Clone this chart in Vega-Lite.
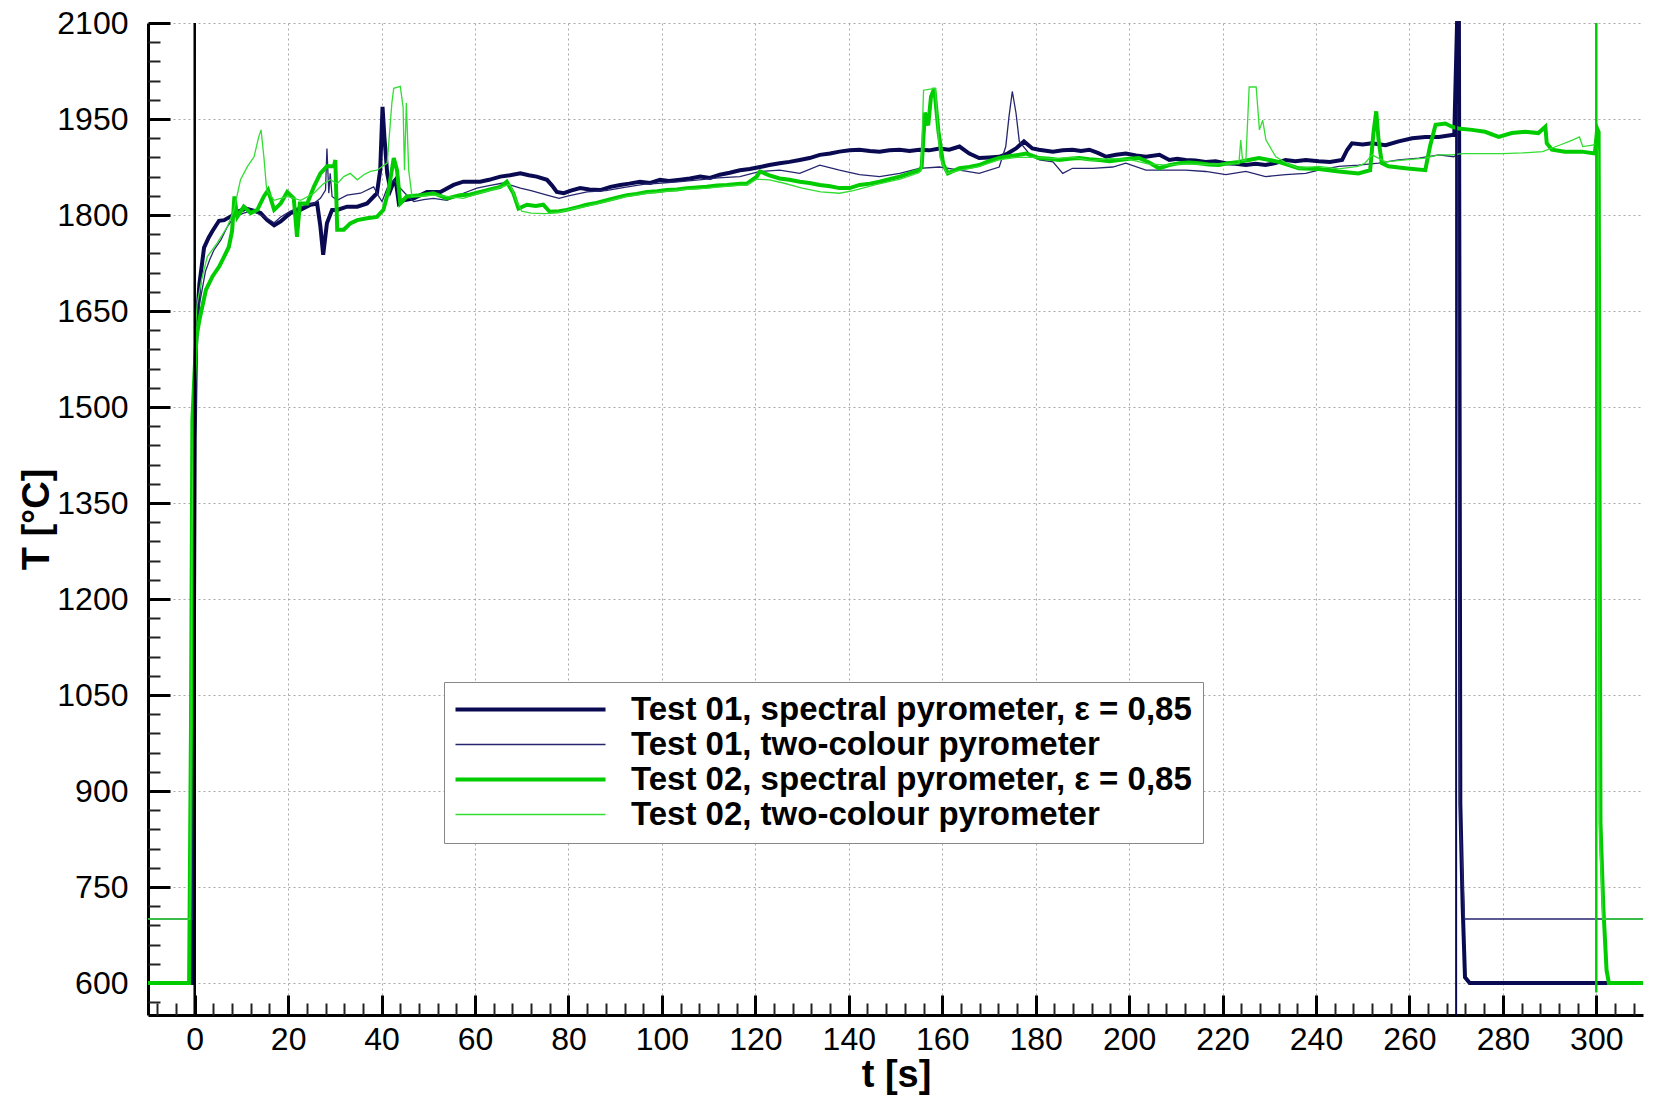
{
"$schema": "https://vega.github.io/schema/vega-lite/v6.json",
"width": 1495, "height": 992,
"autosize": {"type": "none"},
"padding": {"left": 148, "top": 23, "right": 11, "bottom": 82},
"background": "white",
"config": {"view": {"stroke": null}, "font": "Liberation Sans"},
"resolve": {"axis": {"x": "independent", "y": "independent"}},
"datasets": {
"t01s": [{"t":-10,"T":600},{"t":-0.4,"T":600},{"t":-0.2,"T":1100},{"t":0,"T":1450},{"t":0.3,"T":1615},{"t":1,"T":1692},{"t":2,"T":1749},{"t":3,"T":1765},{"t":3.8,"T":1775},{"t":5.2,"T":1791},{"t":6.3,"T":1792},{"t":8,"T":1799},{"t":9.1,"T":1805},{"t":11,"T":1810},{"t":12,"T":1808},{"t":13,"T":1806},{"t":14.1,"T":1803},{"t":15.5,"T":1792},{"t":17,"T":1784},{"t":18.4,"T":1790},{"t":19.5,"T":1797},{"t":20.5,"T":1803},{"t":22.6,"T":1808},{"t":24.8,"T":1816},{"t":26.2,"T":1818},{"t":26.9,"T":1782},{"t":27.5,"T":1738},{"t":28.3,"T":1787},{"t":29.4,"T":1808},{"t":30.5,"T":1808},{"t":32.6,"T":1813},{"t":34.8,"T":1813},{"t":36.9,"T":1818},{"t":39,"T":1834},{"t":39.7,"T":1870},{"t":40.2,"T":1969},{"t":40.6,"T":1922},{"t":41.2,"T":1865},{"t":41.9,"T":1839},{"t":42.5,"T":1850},{"t":43,"T":1855},{"t":43.7,"T":1818},{"t":44.7,"T":1823},{"t":46.9,"T":1826},{"t":49.7,"T":1836},{"t":52.6,"T":1836},{"t":55.4,"T":1847},{"t":57.5,"T":1852},{"t":61.1,"T":1852},{"t":63,"T":1855},{"t":65.4,"T":1860},{"t":67.5,"T":1862},{"t":69.7,"T":1865},{"t":71.5,"T":1862},{"t":73.2,"T":1860},{"t":75.4,"T":1855},{"t":76.5,"T":1846},{"t":77.5,"T":1836},{"t":79,"T":1834},{"t":80.5,"T":1838},{"t":82.5,"T":1842},{"t":84.5,"T":1840},{"t":86.8,"T":1839},{"t":89,"T":1844},{"t":91.1,"T":1847},{"t":93,"T":1849},{"t":95.3,"T":1852},{"t":97.5,"T":1850},{"t":99.6,"T":1855},{"t":101.5,"T":1853},{"t":103.9,"T":1855},{"t":106,"T":1857},{"t":108.2,"T":1860},{"t":110.3,"T":1858},{"t":112.4,"T":1863},{"t":114.5,"T":1866},{"t":116.7,"T":1870},{"t":118.8,"T":1872},{"t":121,"T":1875},{"t":123,"T":1878},{"t":125.2,"T":1881},{"t":127.3,"T":1883},{"t":129.5,"T":1886},{"t":131.6,"T":1889},{"t":133.8,"T":1894},{"t":136,"T":1896},{"t":138,"T":1899},{"t":140.2,"T":1901},{"t":142.3,"T":1902},{"t":144.5,"T":1900},{"t":146.6,"T":1899},{"t":148.7,"T":1901},{"t":150.9,"T":1902},{"t":153,"T":1900},{"t":155.1,"T":1902},{"t":157.2,"T":1901},{"t":159.4,"T":1904},{"t":161.5,"T":1902},{"t":163.7,"T":1907},{"t":165.8,"T":1896},{"t":167.9,"T":1889},{"t":170,"T":1890},{"t":172.2,"T":1891},{"t":174,"T":1896},{"t":175.8,"T":1904},{"t":177.5,"T":1915},{"t":179.3,"T":1904},{"t":180.7,"T":1902},{"t":183.7,"T":1899},{"t":185.8,"T":1901},{"t":187.9,"T":1902},{"t":189.7,"T":1900},{"t":191.5,"T":1902},{"t":193.3,"T":1897},{"t":195.1,"T":1891},{"t":197.2,"T":1894},{"t":199.3,"T":1896},{"t":201.5,"T":1893},{"t":203.6,"T":1891},{"t":206.5,"T":1894},{"t":208.6,"T":1886},{"t":210.3,"T":1888},{"t":212.1,"T":1886},{"t":214.2,"T":1885},{"t":216.4,"T":1883},{"t":218.5,"T":1884},{"t":220.7,"T":1881},{"t":222.8,"T":1880},{"t":225,"T":1878},{"t":227.1,"T":1880},{"t":229.2,"T":1878},{"t":231.3,"T":1881},{"t":233.5,"T":1886},{"t":235.6,"T":1884},{"t":237.8,"T":1886},{"t":240.6,"T":1884},{"t":243,"T":1883},{"t":245.6,"T":1886},{"t":246.7,"T":1902},{"t":247.7,"T":1912},{"t":250,"T":1910},{"t":252,"T":1912},{"t":254.9,"T":1909},{"t":257.7,"T":1915},{"t":260.6,"T":1920},{"t":263.4,"T":1922},{"t":266.3,"T":1922},{"t":269.1,"T":1925},{"t":269.6,"T":1925},{"t":270.2,"T":2100},{"t":270.6,"T":2100},{"t":270.9,"T":880},{"t":271.4,"T":720},{"t":271.9,"T":609},{"t":272.9,"T":600},{"t":310,"T":600}],
"t01t": [{"t":-10,"T":700},{"t":-0.4,"T":700},{"t":-0.1,"T":1300},{"t":0.3,"T":1560},{"t":1,"T":1660},{"t":2.3,"T":1712},{"t":3.2,"T":1730},{"t":4.1,"T":1745},{"t":5.6,"T":1761},{"t":7,"T":1782},{"t":8.4,"T":1797},{"t":9.5,"T":1800},{"t":10.5,"T":1803},{"t":12,"T":1806},{"t":13,"T":1804},{"t":14.2,"T":1800},{"t":15.5,"T":1795},{"t":17,"T":1788},{"t":18.4,"T":1797},{"t":20.5,"T":1806},{"t":22.7,"T":1813},{"t":24,"T":1815},{"t":25.5,"T":1818},{"t":26.9,"T":1826},{"t":28,"T":1839},{"t":28.3,"T":1904},{"t":28.7,"T":1834},{"t":29,"T":1865},{"t":29.4,"T":1829},{"t":30.5,"T":1823},{"t":32.6,"T":1831},{"t":35.5,"T":1834},{"t":38.3,"T":1844},{"t":39.4,"T":1829},{"t":40.1,"T":1821},{"t":41.2,"T":1842},{"t":42.6,"T":1855},{"t":44,"T":1842},{"t":45.5,"T":1830},{"t":46.9,"T":1821},{"t":49,"T":1824},{"t":51.1,"T":1826},{"t":54,"T":1823},{"t":57.5,"T":1834},{"t":60.4,"T":1842},{"t":63,"T":1846},{"t":66,"T":1850},{"t":68,"T":1846},{"t":69.7,"T":1842},{"t":72,"T":1838},{"t":75.4,"T":1831},{"t":78,"T":1826},{"t":80,"T":1830},{"t":84,"T":1836},{"t":88,"T":1838},{"t":92,"T":1843},{"t":96,"T":1848},{"t":100,"T":1850},{"t":104,"T":1852},{"t":108,"T":1855},{"t":112,"T":1858},{"t":116.7,"T":1860},{"t":121,"T":1868},{"t":125.2,"T":1870},{"t":129.5,"T":1865},{"t":133.8,"T":1878},{"t":138,"T":1870},{"t":142.3,"T":1863},{"t":146.6,"T":1860},{"t":150.9,"T":1865},{"t":155.1,"T":1873},{"t":159.4,"T":1875},{"t":163.7,"T":1870},{"t":167.9,"T":1865},{"t":172.2,"T":1875},{"t":173.6,"T":1907},{"t":174.3,"T":1954},{"t":175,"T":1993},{"t":175.8,"T":1959},{"t":176.5,"T":1915},{"t":178.6,"T":1896},{"t":180.8,"T":1886},{"t":183.7,"T":1883},{"t":185.8,"T":1865},{"t":187.9,"T":1873},{"t":192.2,"T":1873},{"t":196.5,"T":1875},{"t":199.3,"T":1881},{"t":203.6,"T":1870},{"t":207.9,"T":1870},{"t":212.1,"T":1870},{"t":216.4,"T":1868},{"t":220.7,"T":1863},{"t":225,"T":1868},{"t":229.2,"T":1860},{"t":233.5,"T":1863},{"t":237.8,"T":1865},{"t":240.6,"T":1870},{"t":244.9,"T":1876},{"t":249.1,"T":1878},{"t":253.4,"T":1881},{"t":257.7,"T":1886},{"t":262,"T":1889},{"t":266.3,"T":1894},{"t":269.5,"T":1891},{"t":270.3,"T":1895},{"t":270.8,"T":850},{"t":271.3,"T":790},{"t":271.8,"T":700},{"t":310,"T":700}],
"t02s": [{"t":-10,"T":600},{"t":-1.2,"T":600},{"t":-0.8,"T":1000},{"t":-0.5,"T":1480},{"t":0,"T":1560},{"t":0.4,"T":1610},{"t":1,"T":1636},{"t":2.4,"T":1683},{"t":3.8,"T":1704},{"t":5.2,"T":1719},{"t":6.3,"T":1735},{"t":7.3,"T":1750},{"t":8,"T":1775},{"t":8.5,"T":1829},{"t":9.1,"T":1797},{"t":10.5,"T":1813},{"t":12,"T":1803},{"t":13.4,"T":1808},{"t":14.8,"T":1829},{"t":15.7,"T":1839},{"t":17,"T":1808},{"t":18.4,"T":1818},{"t":19.8,"T":1836},{"t":21.2,"T":1826},{"t":21.9,"T":1766},{"t":22.5,"T":1818},{"t":24.1,"T":1818},{"t":25.5,"T":1844},{"t":26.9,"T":1865},{"t":28.3,"T":1876},{"t":29.8,"T":1876},{"t":30.1,"T":1886},{"t":30.5,"T":1777},{"t":31.9,"T":1777},{"t":33.3,"T":1787},{"t":34.8,"T":1792},{"t":36.9,"T":1795},{"t":39,"T":1797},{"t":40.4,"T":1808},{"t":41.5,"T":1839},{"t":42.6,"T":1889},{"t":43.3,"T":1870},{"t":44,"T":1818},{"t":45.4,"T":1829},{"t":48.3,"T":1831},{"t":51.1,"T":1834},{"t":54,"T":1826},{"t":56.8,"T":1831},{"t":59,"T":1832},{"t":61.1,"T":1836},{"t":63.2,"T":1840},{"t":65.4,"T":1844},{"t":66.8,"T":1852},{"t":68.2,"T":1834},{"t":69.3,"T":1810},{"t":71.1,"T":1816},{"t":73,"T":1814},{"t":74.6,"T":1816},{"t":76,"T":1805},{"t":78,"T":1806},{"t":79.6,"T":1808},{"t":81.8,"T":1812},{"t":83.9,"T":1816},{"t":86,"T":1819},{"t":88.2,"T":1823},{"t":90.3,"T":1827},{"t":92.5,"T":1831},{"t":94.6,"T":1833},{"t":96.8,"T":1836},{"t":99,"T":1837},{"t":101,"T":1839},{"t":103.2,"T":1840},{"t":105.3,"T":1842},{"t":107.5,"T":1843},{"t":109.6,"T":1844},{"t":111.8,"T":1846},{"t":113.9,"T":1847},{"t":116.7,"T":1849},{"t":118.2,"T":1849},{"t":120.3,"T":1860},{"t":121,"T":1868},{"t":123,"T":1862},{"t":125.2,"T":1857},{"t":127.3,"T":1855},{"t":129.5,"T":1852},{"t":131.6,"T":1850},{"t":133.8,"T":1847},{"t":136,"T":1845},{"t":138,"T":1842},{"t":140.2,"T":1842},{"t":142.3,"T":1847},{"t":144.5,"T":1849},{"t":146.6,"T":1852},{"t":148.7,"T":1856},{"t":150.9,"T":1860},{"t":153,"T":1865},{"t":155.1,"T":1870},{"t":155.6,"T":1875},{"t":156.3,"T":1960},{"t":157,"T":1940},{"t":157.6,"T":1985},{"t":158.3,"T":1998},{"t":159.2,"T":1930},{"t":160.2,"T":1880},{"t":161.2,"T":1865},{"t":163.7,"T":1873},{"t":165.8,"T":1875},{"t":167.9,"T":1878},{"t":170,"T":1884},{"t":172.2,"T":1889},{"t":174.3,"T":1892},{"t":176.5,"T":1894},{"t":178,"T":1896},{"t":180.7,"T":1889},{"t":183,"T":1888},{"t":185,"T":1886},{"t":187.2,"T":1888},{"t":189.3,"T":1889},{"t":191.5,"T":1887},{"t":193.6,"T":1886},{"t":195.8,"T":1884},{"t":197.9,"T":1886},{"t":200,"T":1888},{"t":202.1,"T":1889},{"t":204.3,"T":1882},{"t":206.4,"T":1873},{"t":208.6,"T":1878},{"t":210.7,"T":1881},{"t":212.8,"T":1882},{"t":214.9,"T":1881},{"t":217,"T":1879},{"t":219.2,"T":1878},{"t":221.3,"T":1881},{"t":223.5,"T":1883},{"t":225.6,"T":1886},{"t":227.8,"T":1889},{"t":230,"T":1886},{"t":232,"T":1883},{"t":234.2,"T":1878},{"t":236.3,"T":1873},{"t":240.6,"T":1872},{"t":244.9,"T":1868},{"t":249.1,"T":1865},{"t":251.6,"T":1870},{"t":252.3,"T":1928},{"t":252.9,"T":1962},{"t":253.4,"T":1917},{"t":254.1,"T":1881},{"t":255.5,"T":1876},{"t":259.1,"T":1873},{"t":263.4,"T":1870},{"t":264.4,"T":1907},{"t":265.6,"T":1941},{"t":267.7,"T":1943},{"t":269.1,"T":1938},{"t":270.5,"T":1935},{"t":273.4,"T":1933},{"t":276.2,"T":1930},{"t":279.1,"T":1922},{"t":281.9,"T":1928},{"t":284.8,"T":1930},{"t":287.6,"T":1928},{"t":289.1,"T":1938},{"t":289.4,"T":1912},{"t":290.5,"T":1902},{"t":293.3,"T":1899},{"t":296.9,"T":1899},{"t":299.7,"T":1896},{"t":300.2,"T":1935},{"t":300.5,"T":1930},{"t":300.9,"T":850},{"t":301.5,"T":720},{"t":302.2,"T":620},{"t":302.7,"T":600},{"t":310,"T":600}],
"t02t": [{"t":-10,"T":700},{"t":-1,"T":700},{"t":-0.6,"T":1300},{"t":0,"T":1600},{"t":0.5,"T":1660},{"t":1.5,"T":1700},{"t":2.7,"T":1735},{"t":4.8,"T":1756},{"t":7,"T":1782},{"t":8.4,"T":1808},{"t":9.8,"T":1855},{"t":11.3,"T":1876},{"t":12.7,"T":1891},{"t":13.7,"T":1922},{"t":14.2,"T":1933},{"t":14.8,"T":1891},{"t":15.4,"T":1839},{"t":17,"T":1823},{"t":19.8,"T":1829},{"t":22.7,"T":1823},{"t":25.5,"T":1834},{"t":27.6,"T":1849},{"t":29,"T":1855},{"t":30.5,"T":1849},{"t":31.9,"T":1860},{"t":33.3,"T":1865},{"t":34.8,"T":1855},{"t":36.2,"T":1863},{"t":37.6,"T":1868},{"t":39,"T":1870},{"t":41.2,"T":1881},{"t":42.2,"T":1975},{"t":42.6,"T":1998},{"t":44,"T":2001},{"t":44.6,"T":1969},{"t":44.9,"T":1870},{"t":45.3,"T":1975},{"t":45.8,"T":1870},{"t":46.5,"T":1829},{"t":48.3,"T":1829},{"t":51.1,"T":1831},{"t":54,"T":1829},{"t":57.5,"T":1826},{"t":61,"T":1834},{"t":65,"T":1842},{"t":67.5,"T":1848},{"t":69,"T":1820},{"t":70,"T":1806},{"t":72,"T":1803},{"t":75,"T":1802},{"t":78,"T":1804},{"t":80,"T":1808},{"t":84,"T":1814},{"t":88,"T":1821},{"t":92.5,"T":1829},{"t":96.8,"T":1834},{"t":101,"T":1837},{"t":105.3,"T":1840},{"t":109.6,"T":1842},{"t":113.9,"T":1845},{"t":118.2,"T":1847},{"t":120.3,"T":1856},{"t":123,"T":1855},{"t":126,"T":1850},{"t":130,"T":1842},{"t":134,"T":1836},{"t":138,"T":1834},{"t":141,"T":1838},{"t":146,"T":1848},{"t":151,"T":1856},{"t":155,"T":1866},{"t":155.5,"T":1870},{"t":156,"T":1995},{"t":158.5,"T":1998},{"t":159.5,"T":1890},{"t":161,"T":1865},{"t":164,"T":1870},{"t":168,"T":1876},{"t":172,"T":1886},{"t":176,"T":1890},{"t":180,"T":1890},{"t":184,"T":1888},{"t":188,"T":1890},{"t":192,"T":1885},{"t":196,"T":1888},{"t":200,"T":1887},{"t":204,"T":1880},{"t":208,"T":1878},{"t":212,"T":1880},{"t":216,"T":1879},{"t":220,"T":1880},{"t":223.5,"T":1880},{"t":223.9,"T":1917},{"t":224.3,"T":1885},{"t":225,"T":1886},{"t":225.7,"T":2000},{"t":227.2,"T":2000},{"t":227.9,"T":1933},{"t":228.6,"T":1948},{"t":229.3,"T":1917},{"t":231.4,"T":1891},{"t":234,"T":1880},{"t":236.3,"T":1873},{"t":240.6,"T":1876},{"t":244.9,"T":1872},{"t":249,"T":1876},{"t":250.5,"T":1881},{"t":252,"T":1894},{"t":254.9,"T":1883},{"t":259.1,"T":1886},{"t":263.4,"T":1889},{"t":266.3,"T":1894},{"t":269.1,"T":1894},{"t":271.3,"T":1896},{"t":275.6,"T":1896},{"t":279.9,"T":1896},{"t":284.2,"T":1897},{"t":288.5,"T":1899},{"t":292.1,"T":1909},{"t":294.9,"T":1917},{"t":296.4,"T":1922},{"t":297.1,"T":1907},{"t":299.2,"T":1909},{"t":299.9,"T":1912},{"t":300.4,"T":1900},{"t":300.7,"T":820},{"t":301,"T":780},{"t":301.4,"T":700},{"t":310,"T":700}]
},
"layer": [
{"data": {"name": "t01s"}, "mark": {"type": "line", "strokeWidth": 4},
 "encoding": {
  "x": {"field": "t", "type": "quantitative", "scale": {"domain": [-10, 310], "nice": false, "zero": false},
   "axis": {"orient": "bottom", "values": [0,20,40,60,80,100,120,140,160,180,200,220,240,260,280,300], "format": "d", "grid": true, "gridColor": "#a8a8a8", "gridDash": [2,3], "gridWidth": 1, "domainColor": "black", "domainWidth": 3, "tickColor": "black", "tickSize": -20, "tickWidth": 3, "labelFont": "Liberation Sans", "labelFontSize": 32, "labelColor": "black", "labelPadding": 29, "labelFlush": false, "labelOverlap": false, "title": "t [s]", "titleFont": "Liberation Sans", "titleFontSize": 38, "titleFontWeight": "bold", "titleColor": "black", "titleX": 748, "titleY": 60, "titleAlign": "center", "titleBaseline": "middle"}},
  "y": {"field": "T", "type": "quantitative", "scale": {"domain": [550, 2100], "nice": false, "zero": false},
   "axis": {"orient": "left", "values": [600,750,900,1050,1200,1350,1500,1650,1800,1950,2100], "format": "d", "grid": true, "gridColor": "#a8a8a8", "gridDash": [2,3], "gridWidth": 1, "domainColor": "black", "domainWidth": 3, "tickColor": "black", "tickSize": -22, "tickWidth": 3, "labelFont": "Liberation Sans", "labelFontSize": 32, "labelColor": "black", "labelPadding": 42, "labelFlush": false, "labelOverlap": false, "title": "T [°C]", "titleFont": "Liberation Sans", "titleFontSize": 38, "titleFontWeight": "bold", "titleColor": "black", "titleX": -111, "titleY": 496, "titleAngle": -90, "titleAlign": "center", "titleBaseline": "middle"}},
  "color": {"datum": "Test 01, spectral pyrometer, ε = 0,85", "type": "nominal",
   "scale": {"domain": ["Test 01, spectral pyrometer, ε = 0,85", "Test 01, two-colour pyrometer", "Test 02, spectral pyrometer, ε = 0,85", "Test 02, two-colour pyrometer"], "range": ["#0a0a52", "#26266e", "#00cc00", "#33dd33"]},
   "legend": {"orient": "none", "legendX": 296, "legendY": 659, "direction": "vertical", "title": null, "symbolType": "M-1,0H14", "symbolSize": 400, "symbolOffset": -6, "symbolStrokeWidth": 4, "symbolFillColor": "transparent", "labelFont": "Liberation Sans", "labelFontSize": 33, "labelFontWeight": "bold", "labelColor": "black", "labelOffset": 149, "labelLimit": 0, "padding": 11, "rowPadding": 1, "strokeColor": "#888888", "fillColor": "white",
    "encode": {"symbols": {"update": {"strokeWidth": {"signal": "datum.index % 2 === 0 ? 4 : 1.3"}}}}}}
 }},
{"data": {"name": "t01t"}, "mark": {"type": "line", "strokeWidth": 1.3},
 "encoding": {"x": {"field": "t", "type": "quantitative", "axis": null}, "y": {"field": "T", "type": "quantitative", "axis": null}, "color": {"datum": "Test 01, two-colour pyrometer", "type": "nominal"}}},
{"data": {"name": "t02s"}, "mark": {"type": "line", "strokeWidth": 4},
 "encoding": {"x": {"field": "t", "type": "quantitative", "axis": null}, "y": {"field": "T", "type": "quantitative", "axis": null}, "color": {"datum": "Test 02, spectral pyrometer, ε = 0,85", "type": "nominal"}}},
{"data": {"name": "t02t"}, "mark": {"type": "line", "strokeWidth": 1.3},
 "encoding": {"x": {"field": "t", "type": "quantitative", "axis": null}, "y": {"field": "T", "type": "quantitative", "axis": null}, "color": {"datum": "Test 02, two-colour pyrometer", "type": "nominal"}}},
{"data": {"values": [{"t": 0, "top": 2100, "bottom": 550}]}, "mark": {"type": "rule", "color": "black", "strokeWidth": 2.5},
 "encoding": {
  "x": {"field": "t", "type": "quantitative",
   "axis": {"orient": "bottom", "values": [-8,-4,4,8,12,16,24,28,32,36,44,48,52,56,64,68,72,76,84,88,92,96,104,108,112,116,124,128,132,136,144,148,152,156,164,168,172,176,184,188,192,196,204,208,212,216,224,228,232,236,244,248,252,256,264,268,272,276,284,288,292,296,304,308], "grid": false, "domain": false, "labels": false, "ticks": true, "tickSize": -12, "tickWidth": 2, "tickColor": "#222222", "title": null}},
  "y": {"field": "top", "type": "quantitative",
   "axis": {"orient": "left", "values": [570,630,660,690,720,780,810,840,870,930,960,990,1020,1080,1110,1140,1170,1230,1260,1290,1320,1380,1410,1440,1470,1530,1560,1590,1620,1680,1710,1740,1770,1830,1860,1890,1920,1980,2010,2040,2070], "grid": false, "domain": false, "labels": false, "ticks": true, "tickSize": -12, "tickWidth": 2, "tickColor": "#222222", "title": null}},
  "y2": {"field": "bottom"}}},
{"data": {"values": [{"t": 270, "top": 2100, "bottom": 550}]}, "mark": {"type": "rule", "color": "#0a0a52", "strokeWidth": 2},
 "encoding": {"x": {"field": "t", "type": "quantitative", "axis": null}, "y": {"field": "top", "type": "quantitative", "axis": null}, "y2": {"field": "bottom"}}},
{"data": {"values": [{"t": 300, "top": 2100, "bottom": 585}]}, "mark": {"type": "rule", "color": "#00cc00", "strokeWidth": 2.5},
 "encoding": {"x": {"field": "t", "type": "quantitative", "axis": null}, "y": {"field": "top", "type": "quantitative", "axis": null}, "y2": {"field": "bottom"}}}
]
}
